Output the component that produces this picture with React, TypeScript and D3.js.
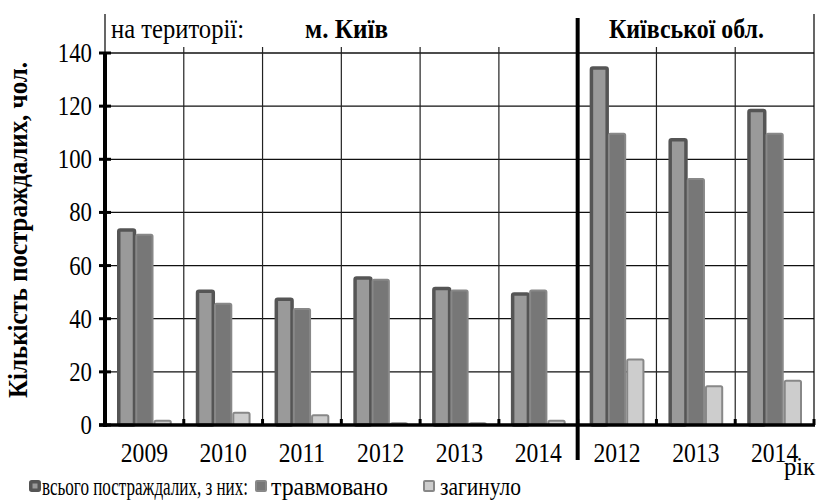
import React from "react";
import * as d3 from "d3";

const categories = ["2009", "2010", "2011", "2012", "2013", "2014", "2012", "2013", "2014"];
const totalVictims = [74, 51, 48, 56, 52, 50, 135, 108, 119];
const injured = [72, 46, 44, 55, 51, 51, 110, 93, 110];
const killed = [2, 5, 4, 1, 1, 2, 25, 15, 17];
const yTicks = [0, 20, 40, 60, 80, 100, 120, 140];
const seriesNames = ["всього постраждалих, з них:", "травмовано", "загинуло"];

const W = 828, H = 500;
const FONT = "'Liberation Serif', 'Times New Roman', serif";
const SX = 0.86;

function T({ x, y, size, anchor = "start", bold = false, children, rotate = 0, len }: any) {
  return (
    <text
      transform={`translate(${x},${y}) rotate(${rotate}) scale(${SX},1)`}
      fontFamily={FONT}
      fontSize={size}
      fontWeight={bold ? "bold" : "normal"}
      textAnchor={anchor}
      fill="#000"
      {...(len ? { textLength: len / SX, lengthAdjust: "spacingAndGlyphs" } : {})}
    >
      {children}
    </text>
  );
}

export default function App() {
  const left = 105, right = 814, top = 53, bottom = 425;
  const x = d3.scaleBand<number>().domain(d3.range(categories.length)).range([left, right]).padding(0);
  const y = d3.scaleLinear().domain([0, 140]).range([bottom, top]);
  const bw = x.bandwidth();
  const sub = d3.scaleBand<number>().domain([0, 1, 2]).range([12, bw - 12]).padding(0);
  const sbw = sub.bandwidth();

  const series = [
    { vals: totalVictims, fill: "#9a9a9a", stroke: "#555", sw: 3.5 },
    { vals: injured, fill: "#777", stroke: "#888", sw: 2 },
    { vals: killed, fill: "#cdcdcd", stroke: "#888", sw: 2 },
  ];

  const sepX = x(6)!;

  return (
    <svg width={W} height={H} style={{ position: "absolute", left: 0, top: 0, background: "#fff" }}>
      <rect width={W} height={H} fill="#fff" />
      {yTicks.filter((t) => t > 0).map((t) => (
        <line key={"h" + t} x1={left} x2={right} y1={y(t)} y2={y(t)} stroke="#111" strokeWidth={1.3} />
      ))}
      {d3.range(1, categories.length).map((i) => (
        <line key={"v" + i} x1={x(i)!} x2={x(i)!} y1={47} y2={bottom} stroke="#222" strokeWidth={1.2} />
      ))}
      <line x1={left} x2={left} y1={14} y2={top} stroke="#000" strokeWidth={1.2} />
      <line x1={right} x2={right} y1={14} y2={bottom} stroke="#000" strokeWidth={1.2} />
      {categories.map((c, i) => (
        <g key={"g" + i}>
          {series.map((s, k) => {
            const bx = x(i)! + sub(k)!;
            const v = s.vals[i];
            const inset = s.sw / 2;
            return (
              <rect
                key={k}
                x={bx + inset}
                y={y(v) + s.sw / 2}
                width={sbw - 2 * inset + (k === 0 ? 1 : 0)}
                height={Math.max(0, y(0) - y(v) - s.sw / 2)}
                fill={s.fill}
                stroke={s.stroke}
                strokeWidth={s.sw}
                rx={1.5}
              />
            );
          })}
        </g>
      ))}
      <line x1={left} x2={left} y1={top - 1} y2={bottom + 2} stroke="#000" strokeWidth={4} />
      <line x1={99} x2={right + 1} y1={bottom} y2={bottom} stroke="#000" strokeWidth={3.5} />
      {yTicks.map((t) => (
        <line key={"yt" + t} x1={99} x2={111} y1={y(t)} y2={y(t)} stroke="#000" strokeWidth={3} />
      ))}
      {d3.range(1, categories.length + 1).map((i) => {
        const xx = i === categories.length ? right : x(i)!;
        return <line key={"xt" + i} x1={xx} x2={xx} y1={bottom} y2={bottom - 6} stroke="#000" strokeWidth={3} />;
      })}
      <line x1={sepX} x2={sepX} y1={18} y2={460} stroke="#000" strokeWidth={4} />
      {yTicks.map((t) => (
        <T key={"yl" + t} x={92} y={y(t) + 9} size={26.5} anchor="end">{t}</T>
      ))}
      {categories.map((c, i) => (
        <T key={"xl" + i} x={x(i)! + bw / 2} y={462} size={27.5} anchor="middle">{c}</T>
      ))}
      <T x={111} y={38} size={28} len={133}>на території:</T>
      <T x={305} y={38} size={28} bold len={83}>м. Київ</T>
      <T x={609} y={38} size={28} bold len={155}>Київської обл.</T>
      <T x={27} y={230} size={27} bold anchor="middle" rotate={-90} len={336}>Кількість постраждалих, чол.</T>
      <T x={784} y={475} size={26} len={31}>рік</T>
      {[
        { sx: 29, tx: 42, len: 206 },
        { sx: 255, tx: 271, len: 117 },
        { sx: 423, tx: 440, len: 81 },
      ].map((l, k) => (
        <g key={"lg" + k}>
          <rect x={l.sx + series[k].sw / 2} y={480 + series[k].sw / 2} width={12 - series[k].sw} height={12 - series[k].sw}
            fill={series[k].fill} stroke={series[k].stroke} strokeWidth={series[k].sw} rx={1} />
          <T x={l.tx} y={495} size={25} len={l.len}>{seriesNames[k]}</T>
        </g>
      ))}
    </svg>
  );
}
